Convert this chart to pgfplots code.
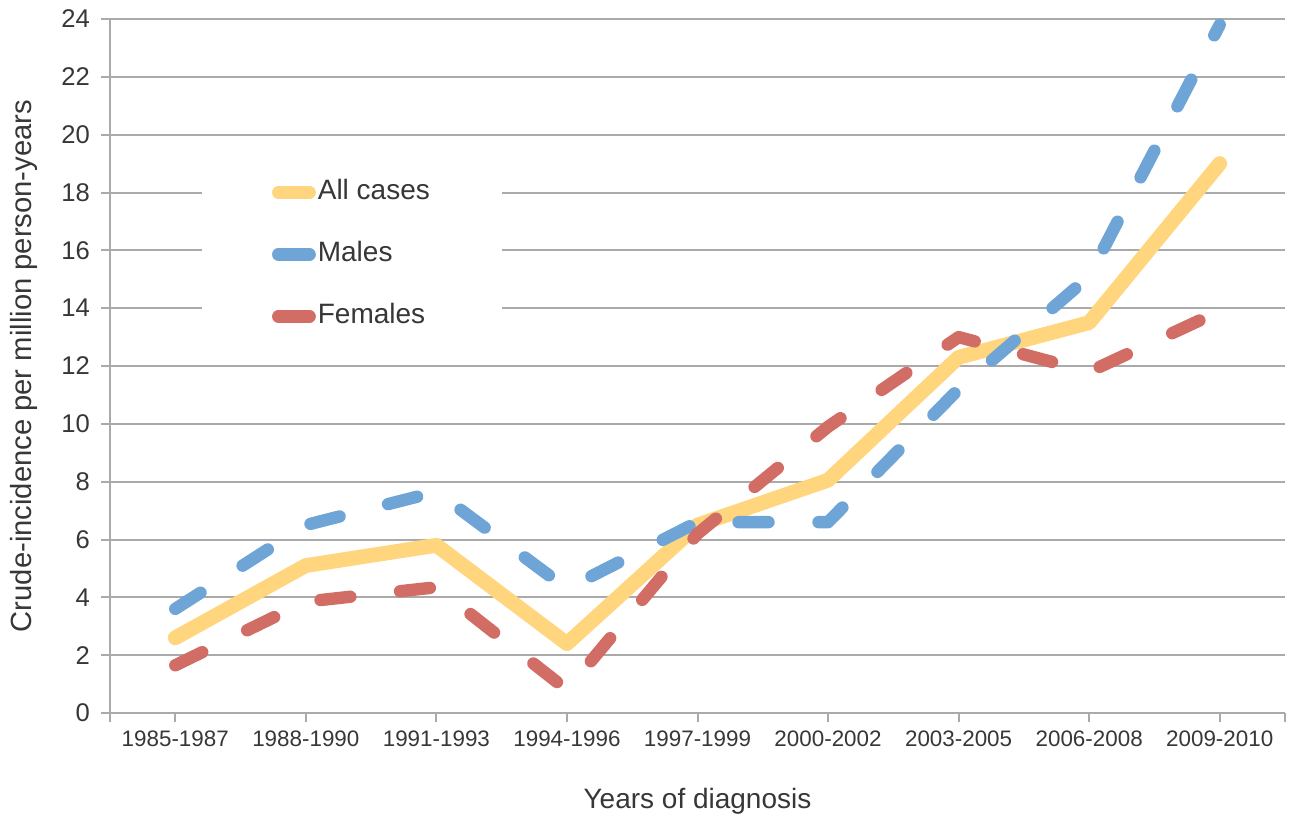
\documentclass[border=0pt]{standalone}
\usepackage{pgfplots}
\pgfplotsset{compat=1.18}
\usepackage{fontspec}
\setmainfont{Liberation Sans}
\definecolor{cAll}{RGB}{255,214,125}
\definecolor{cMale}{RGB}{111,164,214}
\definecolor{cFem}{RGB}{210,109,101}
\definecolor{gridc}{RGB}{170,170,170}
\definecolor{txt}{RGB}{55,55,55}
\begin{document}
\begin{tikzpicture}
\begin{axis}[
  scale only axis, width=587.5pt, height=347pt,
  xmin=-0.5, xmax=8.5, ymin=0, ymax=24,
  xtick={0,1,2,3,4,5,6,7,8},
  xticklabels={1985-1987,1988-1990,1991-1993,1994-1996,1997-1999,2000-2002,2003-2005,2006-2008,2009-2010},
  extra x ticks={-0.5,8.5}, extra x tick labels={}, extra x tick style={grid=none},
  ytick={0,2,...,24},
  ymajorgrids, grid style={gridc, line width=1pt},
  axis x line*=bottom, axis y line*=left,
  axis line style={gridc, line width=1pt, -},
  tick style={gridc, line width=1pt},
  tick align=outside, major tick length=4.5pt,
  /pgf/number format/assume math mode=true,
  xticklabel style={font=\fontsize{11.2}{13}\selectfont, text=txt, yshift=-1pt},
  yticklabel style={font=\fontsize{12.8}{14}\selectfont, text=txt, xshift=-2pt},
  xlabel={Years of diagnosis},
  ylabel={Crude-incidence per million person-years},
  xlabel style={at={(axis description cs:0.5,-0.127)}, anchor=center, font=\fontsize{14}{16}\selectfont, text=txt},
  ylabel style={at={(axis description cs:-0.073,0.5)}, anchor=center, font=\fontsize{14.6}{16}\selectfont, text=txt},
  legend style={at={(rel axis cs:0.078,0.7925)}, anchor=north west, draw=none, fill=white,
    inner xsep=35pt, inner ysep=8pt, row sep=18pt,
    font=\fontsize{14}{16}\selectfont, text=txt,
    nodes={inner xsep=1pt, inner ysep=0pt, text height=10pt, text depth=3pt}},
  legend cell align=left,
  legend image code/.code={%
    \draw[line width=6.3pt, line cap=round, solid] (3.2pt,0pt) -- (18.8pt,0pt);},
  clip=false,
]
\coordinate (SW) at (rel axis cs:0,0);
\coordinate (NE) at (rel axis cs:1,1);
\addplot[cAll, line width=7.4pt, line join=round, line cap=round] coordinates {
  (0,2.6) (1,5.1) (2,5.8) (3,2.4) (4,6.5) (5,8.05) (6,12.3) (7,13.5) (8,19.0)};
\addlegendentry{All cases}
\addplot[cMale, line width=6.2pt, line join=round, line cap=round, dash pattern=on 15pt off 25pt] coordinates {
  (0,3.6) (1,6.5) (2,7.65) (3,4.3) (4,6.6) (5,6.6) (6,11.2) (7,15.1) (8,23.8)};
\addlegendentry{Males}
\addplot[cFem, line width=6.2pt, line join=round, line cap=round, dash pattern=on 15pt off 25pt] coordinates {
  (0,1.65) (1,3.85) (2,4.35) (3,0.8) (4,6.2) (5,9.9) (6,13.0) (7,11.8) (8,13.9)};
\addlegendentry{Females}
\end{axis}
\pgfresetboundingbox
\path[use as bounding box] ([shift={(-55pt,-54pt)}]SW) rectangle ([shift={(7.5pt,9.5pt)}]NE);
\end{tikzpicture}
\end{document}
